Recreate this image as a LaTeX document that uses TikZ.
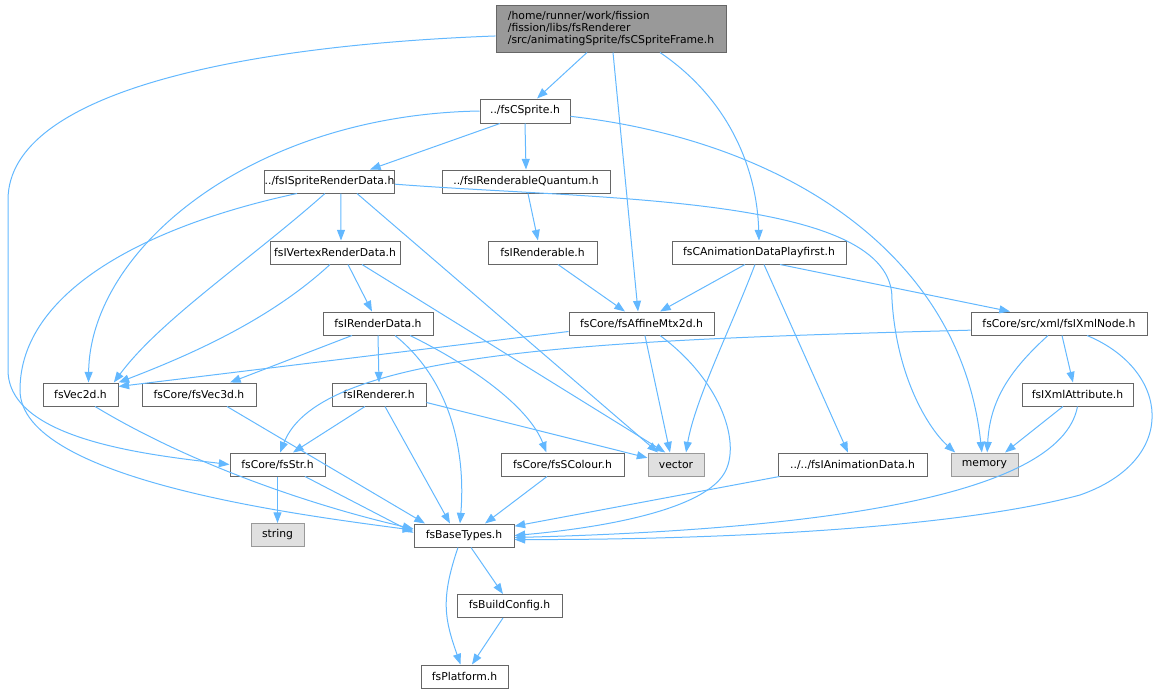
\documentclass[tikz,border=0pt]{standalone}
\usepackage{fontspec}
\setmainfont{DejaVu Sans}
\usetikzlibrary{arrows.meta}
\definecolor{edgec}{HTML}{63B8FF}
\definecolor{boxc}{HTML}{666666}
\definecolor{topfill}{HTML}{999999}
\definecolor{extfill}{HTML}{E0E0E0}
\definecolor{extline}{HTML}{999999}
\begin{document}
\begin{tikzpicture}[x=0.75pt,y=-0.75pt,
  every node/.style={font=\fontsize{8.1}{9}\selectfont, inner sep=0pt, text=black},
  box/.style={draw=boxc, fill=white, line width=0.75pt, minimum height=17.25pt},
  ext/.style={draw=extline, fill=extfill, line width=0.75pt, minimum height=17.25pt},
  edge/.style={draw=edgec, line width=0.75pt, -{Triangle[length=8pt,width=6pt]}}]
\useasboundingbox (0,0) rectangle (1158,693);
% nodes
\node[draw=boxc, fill=topfill, line width=0.75pt, minimum width=172.5pt, minimum height=35.25pt, align=left] (top) at (611,28.5) {/home/runner/work/fission\\/fission/libs/fsRenderer\\/src/animatingSprite/fsCSpriteFrame.h};
\node[box, minimum width=67.5pt, minimum height=18pt] (cs) at (525,111) {../fsCSprite.h};
\node[box, minimum width=95.25pt] (isrd) at (329.5,181.5) {../fsISpriteRenderData.h};
\node[box, minimum width=126pt] (irq) at (526,181.5) {../fsIRenderableQuantum.h};
\node[box, minimum width=97.5pt] (ivrd) at (335,252.5) {fsIVertexRenderData.h};
\node[box, minimum width=81.75pt] (irb) at (542.5,252.5) {fsIRenderable.h};
\node[box, minimum width=130.5pt] (cadp) at (759,252.5) {fsCAnimationDataPlayfirst.h};
\node[box, minimum width=82.5pt] (ird) at (378,323.5) {fsIRenderData.h};
\node[box, minimum width=108.75pt] (aff) at (641.5,323.5) {fsCore/fsAffineMtx2d.h};
\node[box, minimum width=132pt] (xml) at (1059,323.5) {fsCore/src/xml/fsIXmlNode.h};
\node[box, minimum width=56.25pt] (v2) at (80.5,394.5) {fsVec2d.h};
\node[box, minimum width=85.5pt] (v3) at (199,394.5) {fsCore/fsVec3d.h};
\node[box, minimum width=70.5pt] (ren) at (379,394.5) {fsIRenderer.h};
\node[box, minimum width=83.25pt] (xattr) at (1077.5,394.5) {fsIXmlAttribute.h};
\node[box, minimum width=71.25pt] (str) at (277.5,464.5) {fsCore/fsStr.h};
\node[box, minimum width=92.25pt] (col) at (562.5,464.5) {fsCore/fsSColour.h};
\node[ext, minimum width=42pt] (vec) at (676,464.5) {vector};
\node[box, minimum width=111.75pt] (anim) at (852.5,464.5) {../../fsIAnimationData.h};
\node[ext, minimum width=50.25pt] (mem) at (984.5,464.5) {memory};
\node[ext, minimum width=39.75pt] (string) at (277.5,535) {string};
\node[box, minimum width=75pt] (bt) at (464,535.5) {fsBaseTypes.h};
\node[box, minimum width=78.75pt] (bc) at (509.5,606) {fsBuildConfig.h};
\node[box, minimum width=65.25pt] (pl) at (464.5,676.5) {fsPlatform.h};
% edges
\path[edge] ([xshift=-18pt]top.south) -- ([xshift=9pt]cs.north);
\path[edge] ([yshift=-5.6pt]top.west) .. controls (250,45) and (8,90) .. (8,200) -- (8,370) .. controls (8,440) and (150,455) .. (str.west);
\path[edge] ([xshift=1.5pt]top.south) -- ([xshift=-2.6pt]aff.north);
\path[edge] ([xshift=36.75pt]top.south) .. controls (730,100) and (757,170) .. (cadp.north);
\path[edge] ([xshift=-18.75pt]cs.south) -- ([xshift=30.4pt]isrd.north);
\path[edge] (cs.south) -- (irq.north);
\path[edge] (cs.west) .. controls (250,115) and (90,250) .. ([xshift=6pt]v2.north);
\path[edge] ([yshift=-4pt]cs.east) .. controls (780,140) and (960,250) .. ([xshift=-2pt]mem.north);
\path[edge] ([xshift=8.6pt]isrd.south) -- ([xshift=4.5pt]ivrd.north);
\path[edge] ([xshift=-24.4pt]isrd.south) .. controls (150,225) and (20,290) .. (20,390) .. controls (20,480) and (300,515) .. ([yshift=4pt]bt.west);
\path[edge] ([xshift=-3.4pt]isrd.south) .. controls (250,260) and (160,320) .. ([xshift=25pt]v2.north);
\path[edge] ([xshift=20.6pt]isrd.south) -- ([xshift=-13.5pt]vec.north);
\path[edge] ([yshift=-2pt]isrd.east) .. controls (600,200) and (895,195) .. (892,300) .. controls (897,380) and (930,430) .. ([xshift=-22pt]mem.north);
\path[edge] ([xshift=1.5pt]irq.south) -- ([xshift=-3.4pt]irb.north);
\path[edge] ([xshift=11.6pt]irb.south) -- ([xshift=-12.4pt]aff.north);
\path[edge] ([xshift=9.75pt]ivrd.south) -- ([xshift=-4.5pt]ird.north);
\path[edge] ([xshift=-3.75pt]ivrd.south) .. controls (270,320) and (190,355) .. (v2.north east);
\path[edge] ([xshift=20.25pt]ivrd.south) -- ([xshift=-8pt]vec.north);
\path[edge] ([xshift=-19.5pt]ird.south) -- ([xshift=23.25pt]v3.north);
\path[edge] (ird.south) -- (ren.north);
\path[edge] ([xshift=12.75pt]ird.south) .. controls (450,380) and (466,450) .. ([xshift=-3pt]bt.north);
\path[edge] ([xshift=24pt]ird.south) .. controls (480,370) and (530,410) .. ([xshift=-12pt]col.north);
\path[edge] ([xshift=-10.5pt]cadp.south) -- ([xshift=13.9pt]aff.north);
\path[edge] ([xshift=-3pt]cadp.south) .. controls (730,330) and (695,400) .. ([xshift=7.5pt]vec.north);
\path[edge] ([xshift=3.75pt]cadp.south) -- ([xshift=-3.4pt]anim.north);
\path[edge] ([xshift=15.75pt]cadp.south) -- ([xshift=-36.75pt]xml.north);
\path[edge] ([yshift=-6pt]aff.west) -- ([yshift=6pt]v2.east);
\path[edge] ([xshift=2.6pt]aff.south) -- ([xshift=-4.5pt]vec.north);
\path[edge] ([xshift=13.9pt]aff.south) .. controls (720,380) and (740,440) .. (726,470) .. controls (708,510) and (600,528) .. (bt.east);
\path[edge] ([yshift=-5pt]xml.west) .. controls (600,340) and (320,350) .. ([xshift=2pt]str.north);
\path[edge] ([xshift=-8.25pt]xml.south) .. controls (1010,370) and (990,400) .. ([xshift=2pt]mem.north);
\path[edge] ([xshift=2.25pt]xml.south) -- ([xshift=-3.4pt]xattr.north);
\path[edge] ([xshift=21pt]xml.south) .. controls (1170,370) and (1180,460) .. (1080,495) .. controls (950,530) and (700,540) .. ([yshift=-3pt]bt.east);
\path[edge] ([xshift=-10.9pt]xattr.south) -- ([xshift=15.4pt]mem.north);
\path[edge] (xattr.south) .. controls (1060,500) and (800,530) .. ([yshift=-1.5pt]bt.east);
\path[edge] ([xshift=10.9pt]v2.south) .. controls (200,470) and (330,510) .. ([yshift=5pt]bt.west);
\path[edge] ([xshift=21pt]v3.south) -- ([xshift=-29.25pt]bt.north);
\path[edge] ([xshift=-10.5pt]ren.south) -- ([xshift=11.6pt]str.north);
\path[edge] ([xshift=4.5pt]ren.south) -- ([xshift=-10.5pt]bt.north);
\path[edge] ([yshift=-6pt]ren.east) -- ([yshift=5pt]vec.west);
\path[edge] (str.south) -- (string.north);
\path[edge] ([xshift=20.6pt]str.south) -- ([yshift=2pt]bt.west);
\path[edge] ([xshift=-11.6pt]col.south) -- ([xshift=15.75pt]bt.north);
\path[edge] ([xshift=1.5pt]anim.south west) -- ([yshift=7pt]bt.east);
\path[edge] ([xshift=5.25pt]bt.south) -- ([xshift=-4.9pt]bc.north);
\path[edge] ([xshift=-4.5pt]bt.south) .. controls (440,600) and (445,620) .. ([xshift=-3pt]pl.north);
\path[edge] ([xshift=-4.9pt]bc.south) -- ([xshift=5.6pt]pl.north);
\end{tikzpicture}
\end{document}
